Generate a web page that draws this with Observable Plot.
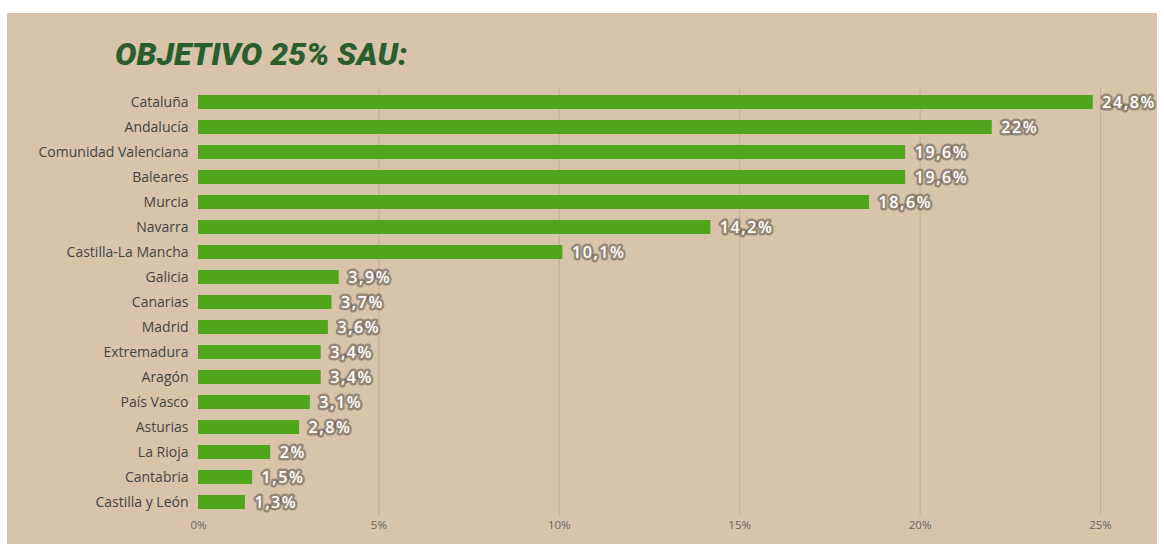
<!DOCTYPE html>
<html>
<head>
<meta charset="utf-8">
<script src="https://cdn.jsdelivr.net/npm/d3@7"></script>
<script src="https://cdn.jsdelivr.net/npm/@observablehq/plot@0.6"></script>
<style>
  html, body { margin: 0; padding: 0; background: #ffffff; width: 1164px; height: 544px; overflow: hidden; }
  #paper { position: absolute; left: 7px; top: 13px; width: 1150px; height: 531px; background: #d7c4ab; }
  #title { position: absolute; left: 115px; top: 38px; margin: 0; font-family: Roboto, sans-serif; font-weight: 900; font-style: italic; font-size: 32px; line-height: 1; letter-spacing: 0px; color: #2b5e2d; white-space: nowrap; }
  #chart { position: absolute; left: 0; top: 0; }
</style>
</head>
<body>
<div id="paper"></div>
<div id="title">OBJETIVO 25% SAU:</div>
<div id="chart"></div>
<script>
const regions = ["Cataluña", "Andalucía", "Comunidad Valenciana", "Baleares", "Murcia", "Navarra", "Castilla-La Mancha", "Galicia", "Canarias", "Madrid", "Extremadura", "Aragón", "País Vasco", "Asturias", "La Rioja", "Cantabria", "Castilla y León"];
const shares = [24.8, 22, 19.6, 19.6, 18.6, 14.2, 10.1, 3.9, 3.7, 3.6, 3.4, 3.4, 3.1, 2.8, 2, 1.5, 1.3];
const xTicks = [0, 5, 10, 15, 20, 25];

const data = regions.map((r, i) => ({region: r, value: shares[i]}));
const fmt = v => String(v).replace(".", ",") + "%";

const plot = Plot.plot({
  width: 1164,
  height: 544,
  marginLeft: 198,
  marginRight: 64,
  marginTop: 87.4,
  marginBottom: 28.4,
  style: {background: "transparent", fontFamily: "'Open Sans', sans-serif"},
  x: {domain: [0, 25], ticks: xTicks, tickFormat: d => d + "%", label: null},
  y: {domain: regions, paddingInner: 0.46, paddingOuter: 0.23, label: null},
  marks: [
    Plot.ruleX(xTicks.slice(1), {stroke: "#bba98f", strokeOpacity: 0.8, strokeWidth: 1}),
    Plot.barX(data, {y: "region", x: "value", fill: "#4fa61c"}),
    Plot.text(data, {
      y: "region", x: "value", text: d => fmt(d.value), dx: 9, textAnchor: "start",
      fill: "#ffffff", stroke: "rgba(70,62,55,0.45)", strokeWidth: 5, strokeLinejoin: "round",
      fontSize: 16, fontWeight: 600
    }),
    Plot.axisY({tickSize: 0, tickPadding: 10, fontSize: 14, fill: "#444", label: null}),
    Plot.axisX({ticks: xTicks, tickSize: 0, tickPadding: 5, tickFormat: d => d + "%", fontSize: 11.5, fill: "#666", label: null})
  ]
});
plot.querySelectorAll('[aria-label="text"] text').forEach(t => t.setAttribute("letter-spacing", "1.6"));
document.getElementById("chart").appendChild(plot);
</script>
</body>
</html>
